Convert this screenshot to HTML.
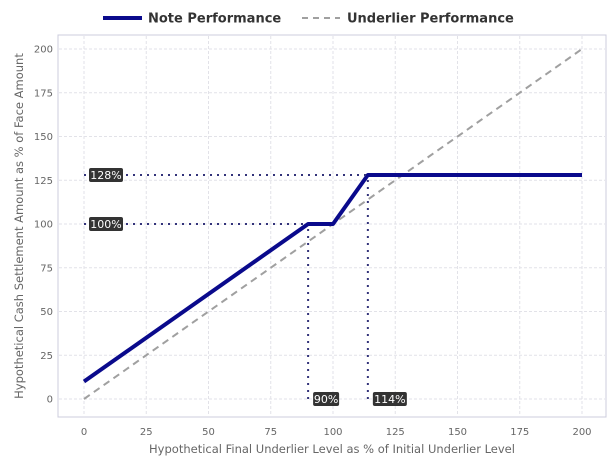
<!DOCTYPE html>
<html><head><meta charset="utf-8"><style>
body{margin:0;background:#fff;width:608px;height:465px;overflow:hidden;font-family:"DejaVu Sans","Liberation Sans",sans-serif}
</style></head><body>
<svg id="chart" width="608" height="465" xmlns="http://www.w3.org/2000/svg" font-family="DejaVu Sans, Liberation Sans, sans-serif">
<g id="legend">
 <g><line x1="103" y1="18" x2="142" y2="18" stroke="#0a0a8c" stroke-width="4"/><text x="148" y="22.5" font-size="13" font-weight="bold" fill="#333">Note Performance</text></g>
 <g><line x1="302" y1="18" x2="340" y2="18" stroke="#a0a0a0" stroke-width="2" stroke-dasharray="6,5"/><text x="347" y="22.5" font-size="13" font-weight="bold" fill="#333">Underlier Performance</text></g>
</g>
<rect x="58" y="35" width="548" height="382" fill="none" stroke="#ccd" stroke-width="1"/>
<g id="grid"></g><g id="axes"></g><g id="series"></g><g id="annot"></g>
<text x="332" y="453" font-size="11.5" fill="#666" text-anchor="middle">Hypothetical Final Underlier Level as % of Initial Underlier Level</text>
<text transform="translate(23,226) rotate(-90)" font-size="11.5" fill="#666" text-anchor="middle">Hypothetical Cash Settlement Amount as % of Face Amount</text>
</svg>
<script>
const xTicks=[0,25,50,75,100,125,150,175,200];
const yTicks=[0,25,50,75,100,125,150,175,200];
const noteX=[0,90,100,114,200];
const noteY=[10,100,100,128,128];
const underX=[0,200];
const underY=[0,200];
const labelsY=[128,100];
const labelsYText=["128%","100%"];
const labelsX=[90,114];
const labelsXText=["90%","114%"];
const NS="http://www.w3.org/2000/svg";
const sx=v=>84+v*(582-84)/200, sy=v=>399-v*(399-49)/200;
function mk(t,a,p){const e=document.createElementNS(NS,t);for(const k in a)e.setAttribute(k,a[k]);p.appendChild(e);return e;}
const G=document.getElementById('grid'),A=document.getElementById('axes'),S=document.getElementById('series'),N=document.getElementById('annot');
xTicks.forEach(v=>{const l=mk('line',{x1:sx(v),x2:sx(v),y1:36,y2:416,stroke:'#e2e2e8','stroke-dasharray':'3,2'},G);


const t=mk('text',{x:sx(v),y:435,'font-size':10,fill:'#666','text-anchor':'middle'},A);t.textContent=v;

});
yTicks.forEach(v=>{const l=mk('line',{x1:59,x2:605,y1:sy(v),y2:sy(v),stroke:'#e2e2e8','stroke-dasharray':'3,2'},G);


const t=mk('text',{x:53,y:sy(v)+3.5,'font-size':10,fill:'#666','text-anchor':'end'},A);t.textContent=v;

});
const up=mk('polyline',{points:underX.map((x,i)=>sx(x)+','+sy(underY[i])).join(' '),fill:'none',stroke:'#a0a0a0','stroke-width':2,'stroke-dasharray':'7,5'},S);


const np=mk('polyline',{points:noteX.map((x,i)=>sx(x)+','+sy(noteY[i])).join(' '),fill:'none',stroke:'#0a0a8c','stroke-width':4,'stroke-linejoin':'round'},S);


function noteAt(x){for(let i=0;i<noteX.length-1;i++){if(x>=noteX[i]&&x<=noteX[i+1])return noteY[i]+(noteY[i+1]-noteY[i])*(x-noteX[i])/(noteX[i+1]-noteX[i]);}return noteY[noteY.length-1];}
function xAtNote(y){for(let i=0;i<noteY.length-1;i++){if(y>=Math.min(noteY[i],noteY[i+1])&&y<=Math.max(noteY[i],noteY[i+1])&&noteY[i]!==noteY[i+1])return noteX[i]+(y-noteY[i])*(noteX[i+1]-noteX[i])/(noteY[i+1]-noteY[i]);}for(let i=0;i<noteY.length;i++)if(noteY[i]===y)return noteX[i];return 0;}
labelsY.forEach((v,i)=>{const xe=xAtNote(v);
const l=mk('line',{x1:sx(0),x2:sx(xe),y1:sy(v),y2:sy(v),stroke:'#33337a','stroke-width':2,'stroke-dasharray':'2,5'},N);


const w=labelsYText[i].length*8+2;
const r=mk('rect',{x:sx(0)+5,y:sy(v)-7,width:w,height:14,rx:2,fill:'#333'},N);


const t=mk('text',{x:sx(0)+5+w/2,y:sy(v)+4,'font-size':11,fill:'#fff','text-anchor':'middle'},N);t.textContent=labelsYText[i];

});
labelsX.forEach((v,i)=>{
const l=mk('line',{x1:sx(v),x2:sx(v),y1:sy(0),y2:sy(noteAt(v)),stroke:'#33337a','stroke-width':2,'stroke-dasharray':'2,5'},N);


const w=labelsXText[i].length*8+2;
const r=mk('rect',{x:sx(v)+5,y:sy(0)-7,width:w,height:14,rx:2,fill:'#333'},N);


const t=mk('text',{x:sx(v)+5+w/2,y:sy(0)+4,'font-size':11,fill:'#fff','text-anchor':'middle'},N);t.textContent=labelsXText[i];

});
</script>
</body></html>
